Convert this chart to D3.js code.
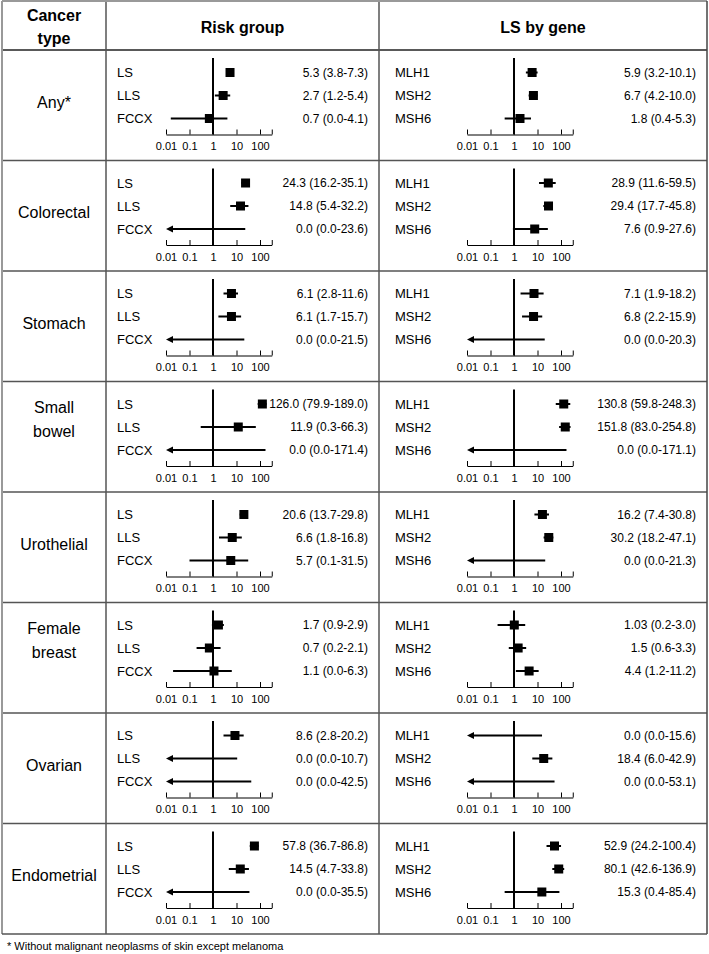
<!DOCTYPE html>
<html><head><meta charset="utf-8">
<script src="https://cdn.jsdelivr.net/npm/d3@7"></script>
<style>
body{margin:0;background:#fff}
svg{display:block}
text{font-family:"Liberation Sans",Arial,sans-serif;fill:#000}
</style>
</head><body><svg id="c" width="709" height="954"></svg>
<script>
// ---------- DATA ----------
const cancerTypes = [["Any*"],["Colorectal"],["Stomach"],["Small","bowel"],["Urothelial"],["Female","breast"],["Ovarian"],["Endometrial"]];
const riskGroups = ["LS","LLS","FCCX"];
const genes = ["MLH1","MSH2","MSH6"];
const panelTitles = ["Risk group","LS by gene"];
const firstColTitle = ["Cancer","type"];
const footnote = "* Without malignant neoplasms of skin except melanoma";

const riskEst = [[5.3,2.7,0.7],[24.3,14.8,0],[6.1,6.1,0],[126.0,11.9,0],[20.6,6.6,5.7],[1.7,0.7,1.1],[8.6,0,0],[57.8,14.5,0]];
const riskLo  = [[3.8,1.2,0.016],[16.2,5.4,0],[2.8,1.7,0],[79.9,0.3,0],[13.7,1.8,0.1],[0.9,0.2,0.02],[2.8,0,0],[36.7,4.7,0]];
const riskHi  = [[7.3,5.4,4.1],[35.1,32.2,23.6],[11.6,15.7,21.5],[189.0,66.3,171.4],[29.8,16.8,31.5],[2.9,2.1,6.3],[20.2,10.7,42.5],[86.8,33.8,35.5]];
const riskText = [
  ["5.3 (3.8-7.3)","2.7 (1.2-5.4)","0.7 (0.0-4.1)"],
  ["24.3 (16.2-35.1)","14.8 (5.4-32.2)","0.0 (0.0-23.6)"],
  ["6.1 (2.8-11.6)","6.1 (1.7-15.7)","0.0 (0.0-21.5)"],
  ["126.0 (79.9-189.0)","11.9 (0.3-66.3)","0.0 (0.0-171.4)"],
  ["20.6 (13.7-29.8)","6.6 (1.8-16.8)","5.7 (0.1-31.5)"],
  ["1.7 (0.9-2.9)","0.7 (0.2-2.1)","1.1 (0.0-6.3)"],
  ["8.6 (2.8-20.2)","0.0 (0.0-10.7)","0.0 (0.0-42.5)"],
  ["57.8 (36.7-86.8)","14.5 (4.7-33.8)","0.0 (0.0-35.5)"]
];

const geneEst = [[5.9,6.7,1.8],[28.9,29.4,7.6],[7.1,6.8,0],[130.8,151.8,0],[16.2,30.2,0],[1.03,1.5,4.4],[0,18.4,0],[52.9,80.1,15.3]];
const geneLo  = [[3.2,4.2,0.4],[11.6,17.7,0.9],[1.9,2.2,0],[59.8,83.0,0],[7.4,18.2,0],[0.2,0.6,1.2],[0,6.0,0],[24.2,42.6,0.4]];
const geneHi  = [[10.1,10.0,5.3],[59.5,45.8,27.6],[18.2,15.9,20.3],[248.3,254.8,171.1],[30.8,47.1,21.3],[3.0,3.3,11.2],[15.6,42.9,53.1],[100.4,136.9,85.4]];
const geneText = [
  ["5.9 (3.2-10.1)","6.7 (4.2-10.0)","1.8 (0.4-5.3)"],
  ["28.9 (11.6-59.5)","29.4 (17.7-45.8)","7.6 (0.9-27.6)"],
  ["7.1 (1.9-18.2)","6.8 (2.2-15.9)","0.0 (0.0-20.3)"],
  ["130.8 (59.8-248.3)","151.8 (83.0-254.8)","0.0 (0.0-171.1)"],
  ["16.2 (7.4-30.8)","30.2 (18.2-47.1)","0.0 (0.0-21.3)"],
  ["1.03 (0.2-3.0)","1.5 (0.6-3.3)","4.4 (1.2-11.2)"],
  ["0.0 (0.0-15.6)","18.4 (6.0-42.9)","0.0 (0.0-53.1)"],
  ["52.9 (24.2-100.4)","80.1 (42.6-136.9)","15.3 (0.4-85.4)"]
];

const tickValues = [0.01, 0.1, 1, 10, 100, Math.pow(10,2.5)];
const tickLabels = ["0.01","0.1","1","10","100",""];

// ---------- LAYOUT ----------
const L = 2, R = 707, T = 1, headB = 50, rowH = 110.5;
const col1 = 106, col2 = 379;
const B = headB + rowH * cancerTypes.length;

const svg = d3.select("#c");
const g = svg.append("g");

const firstCx = (L + col1) / 2;
firstColTitle.forEach((s, k) => g.append("text").attr("x", firstCx).attr("y", 15 + k*23).attr("dy","0.35em")
  .attr("text-anchor","middle").attr("font-size",16).attr("font-weight","bold").text(s));

const panels = [
  {x0: col1, x1: col2, labX: col1 + 11, sx: col1 + 60, title: panelTitles[0], labels: riskGroups, est: riskEst, lo: riskLo, hi: riskHi, txt: riskText},
  {x0: col2, x1: R, labX: col2 + 16, sx: col2 + 88, title: panelTitles[1], labels: genes, est: geneEst, lo: geneLo, hi: geneHi, txt: geneText}
];

panels.forEach(p => {
  g.append("text").attr("x", (p.x0 + p.x1)/2).attr("y", 27).attr("dy","0.35em")
    .attr("text-anchor","middle").attr("font-size",16).attr("font-weight","bold").text(p.title);
});

cancerTypes.forEach((ct, i) => {
  const t = headB + i * rowH;
  if (ct.length === 1) {
    g.append("text").attr("x", firstCx).attr("y", t + 52).attr("dy","0.35em")
      .attr("text-anchor","middle").attr("font-size",16).text(ct[0]);
  } else {
    ct.forEach((s, k) => g.append("text").attr("x", firstCx).attr("y", t + 26 + k*24).attr("dy","0.35em")
      .attr("text-anchor","middle").attr("font-size",16).text(s));
  }

  panels.forEach(p => {
    const x = d3.scaleLog().domain([tickValues[0], tickValues[tickValues.length-1]])
      .range([p.sx, p.sx + 105.75]);
    const rowY = [t + 22.5, t + 45.5, t + 68.5];
    const axisY = t + 84.5;

    g.append("line").attr("x1", x(1)).attr("x2", x(1)).attr("y1", t + 8).attr("y2", axisY)
      .attr("stroke","#000").attr("stroke-width",2);

    const ax = d3.axisBottom(x).tickValues(tickValues)
      .tickFormat((d, k) => tickLabels[k]).tickSizeInner(-5).tickSizeOuter(0).tickPadding(8);
    const axG = g.append("g").attr("transform", `translate(0,${axisY})`).call(ax);
    axG.attr("font-family", null).attr("font-size", null);
    axG.select(".domain").attr("stroke","#000").attr("stroke-width",1);
    axG.selectAll(".tick line").attr("stroke","#000");
    axG.selectAll(".tick text").attr("font-size",11).attr("fill","#000");

    p.labels.forEach((lab, j) => {
      const y = rowY[j];
      g.append("text").attr("x", p.labX).attr("y", y).attr("dy","0.35em")
        .attr("font-size",13).text(lab);
      g.append("text").attr("x", p.x1 - 11).attr("y", y).attr("dy","0.35em")
        .attr("text-anchor","end").attr("font-size",12).text(p.txt[i][j]);

      const e = p.est[i][j], lo = p.lo[i][j], hi = p.hi[i][j];
      if (e === 0) {
        const xL = x(tickValues[0]);
        g.append("line").attr("x1", xL + 4).attr("x2", x(hi)).attr("y1", y).attr("y2", y)
          .attr("stroke","#000").attr("stroke-width",2);
        g.append("path").attr("d", `M${xL},${y}L${xL+7},${y-3.5}L${xL+7},${y+3.5}Z`).attr("fill","#000");
      } else {
        g.append("line").attr("x1", x(lo)).attr("x2", x(hi)).attr("y1", y).attr("y2", y)
          .attr("stroke","#000").attr("stroke-width",2);
        g.append("rect").attr("x", x(e) - 4.5).attr("y", y - 4.5).attr("width", 9).attr("height", 9).attr("fill","#000");
      }
    });
  });
});

const grid = g.append("g");
cancerTypes.forEach((ct, i) => {
  if (i === 0) return;
  const y = headB + i * rowH;
  grid.append("line").attr("x1", L).attr("x2", R).attr("y1", y).attr("y2", y).attr("stroke","#555").attr("stroke-width",1.5);
});
grid.append("line").attr("x1", L).attr("x2", R).attr("y1", headB).attr("y2", headB).attr("stroke","#222").attr("stroke-width",1.5);
[col1, col2].forEach(cx => grid.append("line").attr("x1", cx).attr("x2", cx).attr("y1", T).attr("y2", B).attr("stroke","#555").attr("stroke-width",1.5));
grid.append("line").attr("x1", L).attr("x2", R).attr("y1", T).attr("y2", T).attr("stroke","#999").attr("stroke-width",2);
grid.append("line").attr("x1", L).attr("x2", L).attr("y1", T).attr("y2", B).attr("stroke","#999").attr("stroke-width",2);
grid.append("line").attr("x1", R).attr("x2", R).attr("y1", T).attr("y2", B).attr("stroke","#444").attr("stroke-width",1.5);
grid.append("line").attr("x1", L).attr("x2", R).attr("y1", B).attr("y2", B).attr("stroke","#555").attr("stroke-width",1.5);

g.append("text").attr("x", 7).attr("y", 946).attr("dy","0.35em").attr("font-size",11).text(footnote);
</script></body></html>
